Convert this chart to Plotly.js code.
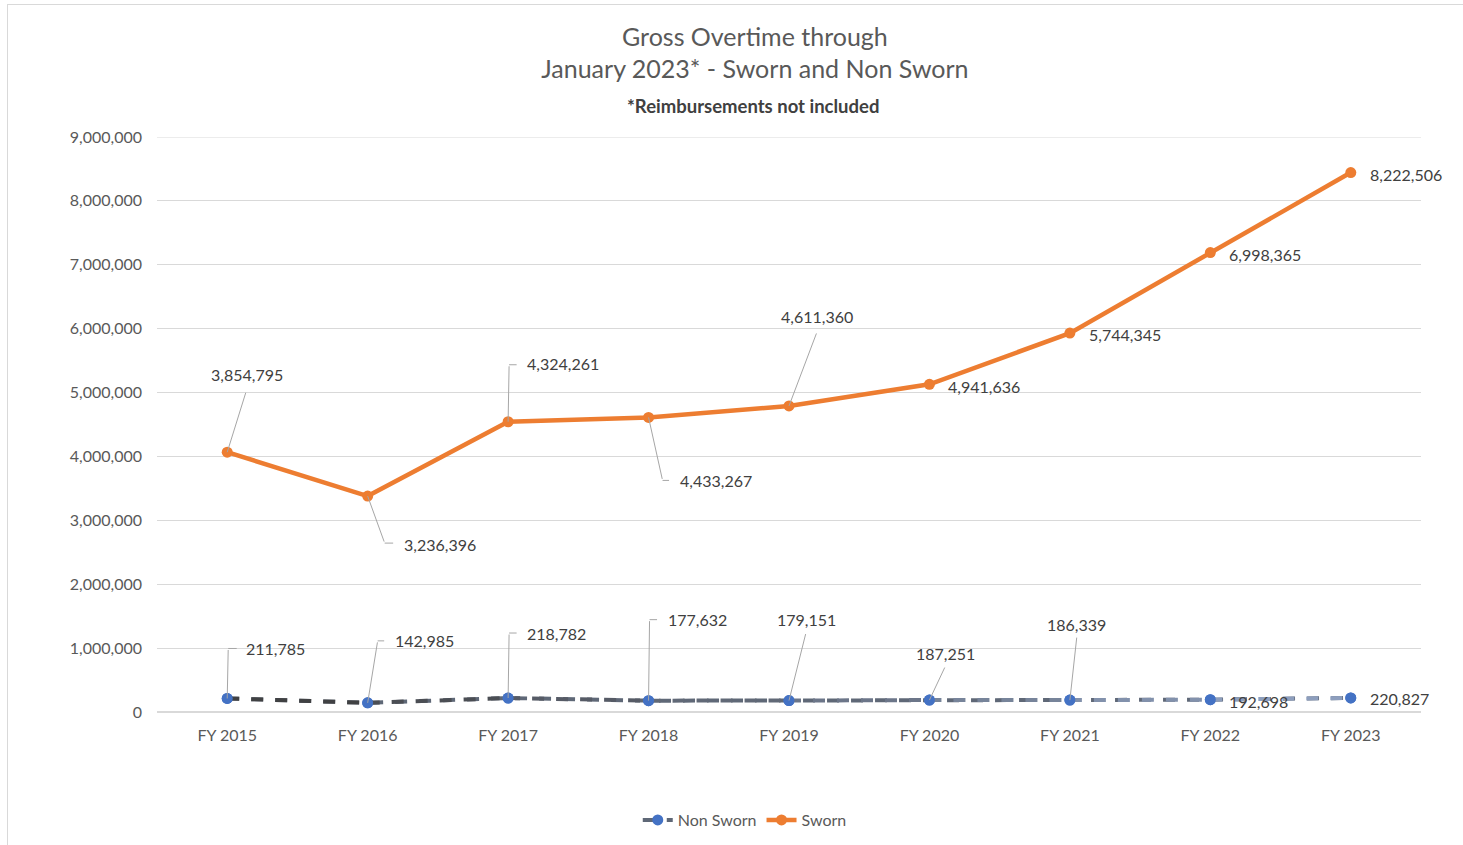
<!DOCTYPE html>
<html>
<head>
<meta charset="utf-8">
<script src="https://cdn.plot.ly/plotly-3.0.1.min.js"></script>
<style>
  html, body { margin: 0; padding: 0; background: #fff; overflow: hidden; }
  #frame { position: absolute; left: 7px; top: 4px; width: 1470px; height: 860px;
           border-left: 1.5px solid #d9d9d9; border-top: 1.5px solid #d9d9d9; }
  #chart { position: absolute; left: 0; top: 0; width: 1463px; height: 845px; }
</style>
</head>
<body>
<div id="frame"></div>
<div id="chart"></div>
<script>
// ---- data ----
var categories = ["FY 2015","FY 2016","FY 2017","FY 2018","FY 2019","FY 2020","FY 2021","FY 2022","FY 2023"];
var nonSworn = [211785, 142985, 218782, 177632, 179151, 187251, 186339, 192698, 220827];
var sworn = [3854795, 3236396, 4324261, 4433267, 4611360, 4941636, 5744345, 6998365, 8222506];
var yTicks = [0,1000000,2000000,3000000,4000000,5000000,6000000,7000000,8000000,9000000];

// ---- label placement (pixel offsets from each point; styling only) ----
// elbow: end of leader line [dx, dy] (screen px, dy down); tick: horizontal leader length
// label: anchor, xshift, yshift (yshift up-positive)
var swornLabelPlacement = [
  {elbow:[19,-61], tick:0,  anchor:'center', xs:20, ys:78},
  {elbow:[17,47],  tick:10, anchor:'left',   xs:34, ys:-48},
  {elbow:[1,-57],  tick:9,  anchor:'left',   xs:17, ys:58},
  {elbow:[14,63],  tick:8,  anchor:'left',   xs:29, ys:-63},
  {elbow:[28,-74], tick:0,  anchor:'center', xs:28, ys:89},
  {elbow:null,     tick:0,  anchor:'left',   xs:17, ys:-2},
  {elbow:null,     tick:0,  anchor:'left',   xs:17, ys:-1},
  {elbow:null,     tick:0,  anchor:'left',   xs:17, ys:-1.5},
  {elbow:null,     tick:0,  anchor:'left',   xs:17, ys:-1.5}
];
var nonSwornLabelPlacement = [
  {elbow:[1,-50],  tick:10, anchor:'left',   xs:17, ys:50},
  {elbow:[10,-62], tick:8,  anchor:'left',   xs:25, ys:62},
  {elbow:[1,-65],  tick:9,  anchor:'left',   xs:17, ys:65},
  {elbow:[1,-81],  tick:9,  anchor:'left',   xs:17, ys:81},
  {elbow:[17,-68], tick:0,  anchor:'center', xs:17, ys:81},
  {elbow:[16,-34], tick:0,  anchor:'center', xs:16, ys:47},
  {elbow:[7,-64],  tick:0,  anchor:'center', xs:7,  ys:76},
  {elbow:null,     tick:0,  anchor:'left',   xs:17, ys:-2},
  {elbow:null,     tick:0,  anchor:'left',   xs:17, ys:-1}
];

function fmt(v){ return v.toLocaleString('en-US'); }
function lerpColor(a, b, t){
  var pa = [parseInt(a.substr(1,2),16),parseInt(a.substr(3,2),16),parseInt(a.substr(5,2),16)];
  var pb = [parseInt(b.substr(1,2),16),parseInt(b.substr(3,2),16),parseInt(b.substr(5,2),16)];
  var c = pa.map(function(v,i){ return Math.round(v + (pb[i]-v)*t); });
  return 'rgb(' + c.join(',') + ')';
}

var FONT = 'Lato, "Open Sans", sans-serif';
var traces = [];

// Non Sworn base (stacked) - legend entry
traces.push({
  type:'scatter', x:categories, y:nonSworn, name:'Non Sworn', stackgroup:'one', fill:'none',
  mode:'lines+markers',
  line:{color:'#5f6877', width:4, dash:'dash'},
  marker:{color:'#4472c4', size:11},
  hoverinfo:'skip'
});
// gradient overlay segments for Non Sworn
for (var i = 0; i < categories.length - 1; i++) {
  var t = (i + 0.5) / (categories.length - 1);
  traces.push({
    type:'scatter', x:[categories[i], categories[i+1]], y:[nonSworn[i], nonSworn[i+1]],
    mode:'lines', showlegend:false, hoverinfo:'skip',
    line:{color:lerpColor('#3a3a3a', '#93a5c6', t), width:4, dash:'dash'}
  });
}
// Non Sworn markers on top
traces.push({
  type:'scatter', x:categories, y:nonSworn, mode:'markers', showlegend:false, hoverinfo:'skip',
  marker:{color:'#4472c4', size:11}
});
// Sworn (stacked on Non Sworn)
traces.push({
  type:'scatter', x:categories, y:sworn, name:'Sworn', stackgroup:'one', fill:'none',
  mode:'lines+markers',
  line:{color:'#ed7d31', width:4.5},
  marker:{color:'#ed7d31', size:11},
  hoverinfo:'skip'
});

var annotations = [];
var LEADER = '#a6a6a6';
function addLabel(cat, yv, value, p){
  if (p.elbow) {
    annotations.push({x:cat, y:yv, xref:'x', yref:'y', text:'', showarrow:true,
      arrowhead:0, arrowwidth:1, arrowcolor:LEADER, ax:p.elbow[0], ay:p.elbow[1], standoff:0});
    if (p.tick) {
      annotations.push({x:cat, y:yv, xref:'x', yref:'y', text:'', showarrow:true,
        arrowhead:0, arrowwidth:1, arrowcolor:LEADER, ax:p.tick, ay:0, standoff:0,
        xshift:p.elbow[0], yshift:-p.elbow[1]});
    }
  }
  annotations.push({x:cat, y:yv, xref:'x', yref:'y', text:fmt(value), showarrow:false,
    xanchor:p.anchor, yanchor:'middle', xshift:p.xs, yshift:p.ys,
    font:{family:FONT, size:16, color:'#404040'}});
}
for (var j = 0; j < categories.length; j++) {
  addLabel(categories[j], sworn[j] + nonSworn[j], sworn[j], swornLabelPlacement[j]);
  addLabel(categories[j], nonSworn[j], nonSworn[j], nonSwornLabelPlacement[j]);
}
annotations.push({
  xref:'paper', yref:'paper', x:0.4715, y:1.054, xanchor:'center', yanchor:'middle',
  showarrow:false, text:'<b>*Reimbursements not included</b>',
  font:{family:FONT, size:18.5, color:'#404040'}
});

var topTick = yTicks[yTicks.length - 1];
var layout = {
  width:1463, height:845,
  paper_bgcolor:'rgba(0,0,0,0)', plot_bgcolor:'rgba(0,0,0,0)',
  margin:{l:157, r:42, t:137, b:133, autoexpand:false},
  font:{family:FONT, color:'#595959'},
  title:{text:'Gross Overtime through<br>January 2023* - Sworn and Non Sworn',
         x:0.516, xanchor:'center', y:0.946, yanchor:'middle',
         font:{family:FONT, size:25, color:'#595959'}},
  xaxis:{type:'category', range:[-0.5, 8.5], showgrid:false, zeroline:false, showline:false,
         ticks:'', ticklabelstandoff:12, tickfont:{family:FONT, size:16, color:'#595959'}, fixedrange:true},
  yaxis:{range:[0, topTick], tickvals:yTicks, ticktext:yTicks.map(fmt),
         showgrid:true, gridcolor:'#d9d9d9', gridwidth:1.2, zeroline:true, zerolinecolor:'#d9d9d9',
         zerolinewidth:1.2, showline:false, ticks:'', ticklabelstandoff:14,
         tickfont:{family:FONT, size:16, color:'#595959'}, fixedrange:true},
  shapes:[{type:'line', xref:'paper', x0:0, x1:1, yref:'y', y0:topTick, y1:topTick,
           line:{color:'#d9d9d9', width:1.2}, layer:'below'}],
  legend:{orientation:'h', x:0.465, xanchor:'center', yref:'container', y:0.0296, yanchor:'middle',
          traceorder:'normal', font:{family:FONT, size:16, color:'#595959'},
          tracegroupgap:0},
  annotations:annotations,
  showlegend:true
};

Plotly.newPlot('chart', traces, layout, {displayModeBar:false, staticPlot:true});
</script>
</body>
</html>
